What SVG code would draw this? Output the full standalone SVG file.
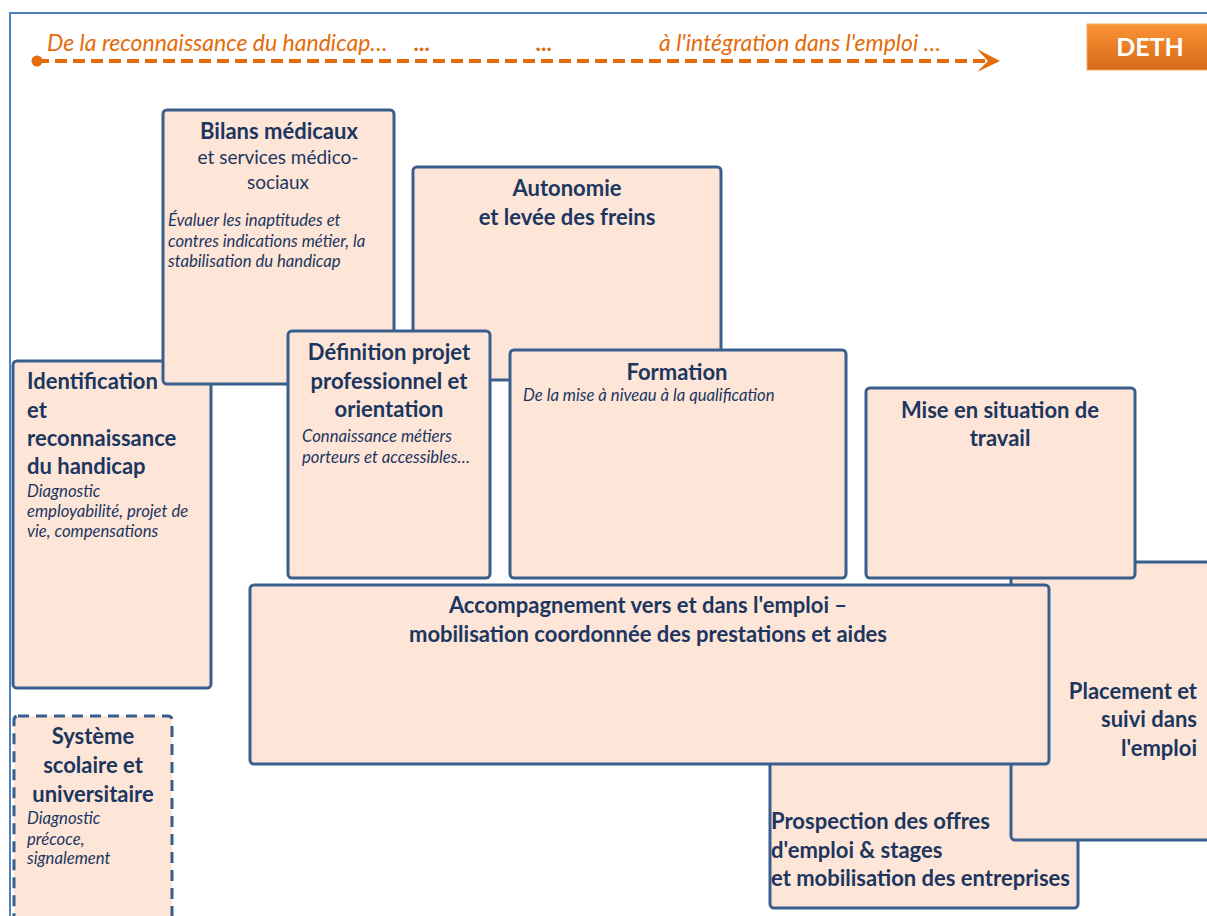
<svg xmlns="http://www.w3.org/2000/svg" width="1207" height="916" viewBox="0 0 1207 916">
<defs>
<linearGradient id="dethGrad" x1="0" y1="0" x2="0" y2="1">
<stop offset="0" stop-color="#f99433"/>
<stop offset="1" stop-color="#d8691a"/>
</linearGradient>
</defs>
<style>
.box{fill:#fde6d8;stroke:#3b5f8d;stroke-width:3}
.dash{stroke-dasharray:11 7}
.t{font-family:Lato,"Open Sans",sans-serif;font-weight:bold;font-size:22px;fill:#1c3660}
.n{font-family:Lato,"Open Sans",sans-serif;font-size:19px;fill:#1c3660}
.i{font-family:Lato,"Open Sans",sans-serif;font-style:italic;font-size:16.7px;fill:#1c3660}
.o{font-family:Lato,"Open Sans",sans-serif;font-style:italic;font-size:23px;fill:#e46c0a}
.c{text-anchor:middle}
.r{text-anchor:end}
</style>
<rect width="1207" height="916" fill="#ffffff"/>
<path d="M10 930 V13 H1220" fill="none" stroke="#4f81bd" stroke-width="2"/>

<g id="connectors">
<circle cx="37" cy="61" r="5.5" fill="#e46c0a"/>
<line x1="37" y1="61" x2="988" y2="61" stroke="#e46c0a" stroke-width="4" stroke-dasharray="12 6"/>
<path d="M977 49 L1000 61 L977 72 L988 61 Z" fill="#e46c0a"/>
</g>

<g id="timeline-labels">
<text class="o" x="47" y="51">De la reconnaissance  du handicap…</text>
<text class="o" x="414" y="51" font-weight="bold">...</text>
<text class="o" x="536" y="51" font-weight="bold">...</text>
<text class="o" x="659" y="51">à l'intégration dans l'emploi …</text>
</g>

<g id="deth">
<rect x="1087" y="24" width="130" height="46" fill="url(#dethGrad)" stroke="#f6a860" stroke-width="1"/>
<text x="1150" y="56" text-anchor="middle" font-family="Lato,'Open Sans',sans-serif" font-weight="bold" font-size="25" fill="#ffffff">DETH</text>
</g>

<g id="identification">
<rect class="box" x="13" y="361" width="198" height="327" rx="4"/>
<text class="t" x="27" y="389" font-size="22.5">Identification</text>
<text class="t" x="27" y="418" font-size="22.5">et</text>
<text class="t" x="27" y="446" font-size="22.5">reconnaissance</text>
<text class="t" x="27" y="474" font-size="22.5">du handicap</text>
<text class="i" x="27" y="497">Diagnostic</text>
<text class="i" x="27" y="517">employabilité, projet de</text>
<text class="i" x="27" y="537">vie, compensations</text>
</g>

<g id="bilans">
<rect class="box" x="163" y="110" width="231" height="274" rx="4"/>
<text class="t c" x="279" y="139">Bilans médicaux</text>
<text class="n c" x="278" y="164">et services médico-</text>
<text class="n c" x="278" y="189">sociaux</text>
<text class="i" x="168" y="226">Évaluer les inaptitudes et</text>
<text class="i" x="168" y="247">contres indications métier, la</text>
<text class="i" x="168" y="267">stabilisation du handicap</text>
</g>

<g id="autonomie">
<rect class="box" x="413" y="167" width="308" height="213" rx="4"/>
<text class="t c" x="567" y="196">Autonomie</text>
<text class="t c" x="567" y="225">et levée des freins</text>
</g>

<g id="definition">
<rect class="box" x="288" y="331" width="202" height="247" rx="4"/>
<text class="t c" x="389" y="360">Définition projet</text>
<text class="t c" x="389" y="389">professionnel et</text>
<text class="t c" x="389" y="417">orientation</text>
<text class="i" x="302" y="442">Connaissance métiers</text>
<text class="i" x="302" y="463">porteurs et accessibles…</text>
</g>

<g id="formation">
<rect class="box" x="510" y="350" width="336" height="228" rx="4"/>
<text class="t c" x="677" y="380">Formation</text>
<text class="i" x="523" y="401">De la mise à niveau à la qualification</text>
</g>

<g id="prospection">
<rect class="box" x="770" y="700" width="308" height="208" rx="4"/>
<text class="t" x="771" y="829">Prospection des offres</text>
<text class="t" x="771" y="858">d'emploi &amp; stages</text>
<text class="t" x="771" y="886">et mobilisation des entreprises</text>
</g>

<g id="placement">
<rect class="box" x="1011" y="562" width="210" height="278" rx="4"/>
<text class="t r" x="1197" y="699">Placement et</text>
<text class="t r" x="1197" y="727">suivi dans</text>
<text class="t r" x="1197" y="756">l'emploi</text>
</g>

<g id="mise-en-situation">
<rect class="box" x="866" y="388" width="269" height="190" rx="4"/>
<text class="t c" x="1000" y="418">Mise en situation de</text>
<text class="t c" x="1000" y="446">travail</text>
</g>

<g id="accompagnement">
<rect class="box" x="250" y="585" width="799" height="179" rx="4"/>
<text class="t c" x="648" y="613">Accompagnement vers et dans l'emploi –</text>
<text class="t c" x="648" y="642">mobilisation coordonnée des prestations et aides</text>
</g>

<g id="systeme">
<rect class="box dash" x="14" y="716" width="158" height="230" rx="4"/>
<text class="t c" x="93" y="744">Système</text>
<text class="t c" x="93" y="773">scolaire et</text>
<text class="t c" x="93" y="802">universitaire</text>
<text class="i" x="27" y="824">Diagnostic</text>
<text class="i" x="27" y="845">précoce,</text>
<text class="i" x="27" y="864">signalement</text>
</g>
</svg>
